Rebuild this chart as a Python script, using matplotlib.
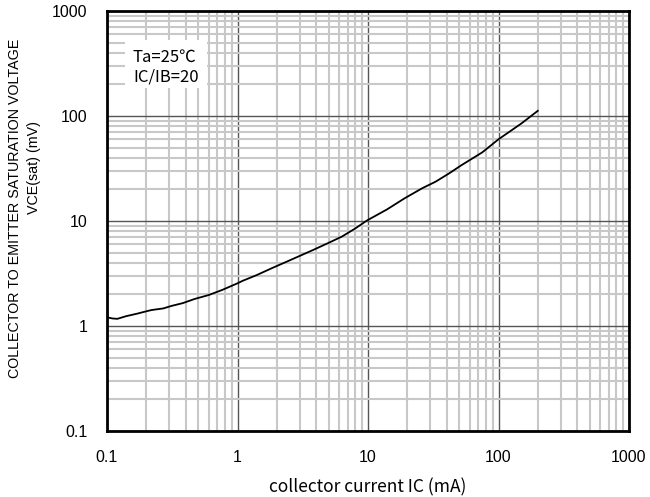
import numpy as np
import matplotlib.pyplot as plt
from matplotlib.patches import Rectangle
from matplotlib.ticker import LogLocator, FixedLocator, NullFormatter

# VCE(sat) vs IC
ic = [0.1, 0.11, 0.12, 0.14, 0.17, 0.2, 0.22, 0.27, 0.31, 0.38, 0.47, 0.6, 0.76,
      1.0, 1.1, 1.4, 1.83, 2.6, 3.8, 5.0, 6.3, 8.0, 9.8, 14, 19, 26, 33, 42, 52,
      75, 100, 150, 200]
vce = [1.21, 1.18, 1.17, 1.24, 1.31, 1.38, 1.42, 1.47, 1.55, 1.65, 1.81, 1.97, 2.2,
       2.55, 2.7, 3.05, 3.55, 4.3, 5.3, 6.2, 7.1, 8.5, 10.1, 12.9, 16.4, 20.5, 23.7, 28.5, 34,
       45, 60, 85, 112]

xticks = [0.1, 1, 10, 100, 1000]
xlabels = ['0.1', '1', '10', '100', '1000']
yticks = [0.1, 1, 10, 100, 1000]
ylabels = ['0.1', '1', '10', '100', '1000']
notes = ['Ta=25\u2103', 'IC/IB=20']

plt.rcParams['font.family'] = ['Liberation Sans', 'DejaVu Sans']
jp = ['Noto Sans CJK JP', 'DejaVu Sans']

fig = plt.figure(figsize=(6.5, 4.97), dpi=100)
ax = fig.add_axes([107/650, 66/497, 522/650, 420/497])

ax.set_xscale('log')
ax.set_yscale('log')
ax.set_xlim(0.1, 1000)
ax.set_ylim(0.1, 1000)

ax.plot(ic, vce, color='black', lw=1.3, zorder=4)

ax.xaxis.set_major_locator(FixedLocator(xticks))
ax.yaxis.set_major_locator(FixedLocator(yticks))
ax.set_xticklabels(xlabels, fontfamily='Liberation Sans', fontsize=11.5)
ax.set_yticklabels(ylabels, fontfamily='Liberation Sans', fontsize=11.5)
ax.xaxis.set_minor_locator(LogLocator(base=10, subs=np.arange(2, 10)))
ax.yaxis.set_minor_locator(LogLocator(base=10, subs=np.arange(2, 10)))
ax.xaxis.set_minor_formatter(NullFormatter())
ax.yaxis.set_minor_formatter(NullFormatter())
ax.tick_params(which='both', length=0)
ax.tick_params(axis='y', pad=14)
ax.tick_params(axis='x', pad=14)

ax.grid(which='minor', color='#c8c8c8', lw=1.5, zorder=1)
ax.grid(which='major', color='#555555', lw=1.0, zorder=2)
ax.set_axisbelow(True)
for s in ax.spines.values():
    s.set_linewidth(2)
    s.set_color('black')
    s.set_zorder(5)

# white patch behind the condition notes
ax.add_patch(Rectangle((0.0345, 0.817), 0.157, 0.114, transform=ax.transAxes,
                       facecolor='white', edgecolor='none', zorder=3))
ax.text(0.0498, 0.879, notes[0], transform=ax.transAxes, family=jp,
        fontsize=12, va='baseline', ha='left', zorder=4)
ax.text(0.0498, 0.831, notes[1], transform=ax.transAxes, family=jp,
        fontsize=12, va='baseline', ha='left', zorder=4)

ax.set_xlabel('collector current IC (mA)', family=jp, fontsize=12.5, labelpad=9)

fig.text(15/650, 1 - 208/497, 'COLLECTOR TO EMITTER SATURATION VOLTAGE',
         rotation=90, ha='center', va='center', fontsize=10.3)
fig.text(34/650, 1 - 168/497, 'VCE(sat) (mV)',
         rotation=90, ha='center', va='center', fontsize=10.3)

fig.savefig('out.png', dpi=100)
